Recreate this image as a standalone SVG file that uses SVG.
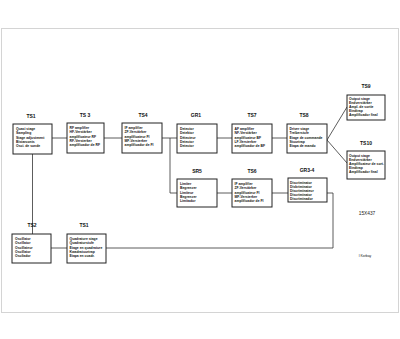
<svg xmlns="http://www.w3.org/2000/svg" width="400" height="339" viewBox="0 0 400 339">
<style>
.bx{fill:#fff;stroke:#222;stroke-width:1}
.lb{font-family:"Liberation Sans",Arial,sans-serif;font-size:5px;font-weight:bold;fill:#111;text-anchor:middle}
.t{font-family:"Liberation Sans",Arial,sans-serif;font-size:3.4px;font-weight:bold;fill:#111}
.c{fill:none;stroke:#333;stroke-width:0.8}
.sm{font-family:"Liberation Sans",Arial,sans-serif;font-size:4.8px;fill:#222}
</style>
<rect x="0" y="0" width="400" height="339" fill="#fff"/>
<rect x="1.5" y="28.5" width="397" height="284" fill="none" stroke="#d4d4d4" stroke-width="1"/>
<g id="connectors">
<line class="c" x1="52" y1="138" x2="67" y2="138"/>
<line class="c" x1="104" y1="138" x2="122" y2="138"/>
<line class="c" x1="162" y1="138" x2="177" y2="138"/>
<polyline class="c" points="170,138 170,193 177,193"/>
<line class="c" x1="217" y1="138" x2="232" y2="138"/>
<line class="c" x1="272" y1="138" x2="287" y2="138"/>
<line class="c" x1="327" y1="140" x2="347" y2="107"/>
<line class="c" x1="327" y1="140" x2="347" y2="163"/>
<line class="c" x1="217" y1="193" x2="232" y2="193"/>
<line class="c" x1="272" y1="193" x2="288" y2="193"/>
<polyline class="c" points="327,193 333,193 333,248 106,248"/>
<line class="c" x1="32.5" y1="154" x2="32.5" y2="234"/>
<line class="c" x1="51" y1="248" x2="67" y2="248"/>
</g>
<g id="TS1">
<text class="lb" x="31" y="118">TS1</text>
<rect class="bx" x="13" y="124" width="39" height="30"/>
<text class="t" x="16" y="130">Quasi stage</text>
<text class="t" x="16" y="134.3">Sampling</text>
<text class="t" x="16" y="138.6">Stage adjustment</text>
<text class="t" x="16" y="142.9">Bistarconts</text>
<text class="t" x="16" y="147.2">Osci. de sonde</text>
</g>
<g id="TS3">
<text class="lb" x="85" y="117">TS 3</text>
<rect class="bx" x="67" y="123" width="37" height="30"/>
<text class="t" x="69.5" y="129">RF amplifier</text>
<text class="t" x="69.5" y="133.3">HF-Verstärker</text>
<text class="t" x="69.5" y="137.6">amplificateur RF</text>
<text class="t" x="69.5" y="141.9">RF-Versterker</text>
<text class="t" x="69.5" y="146.2">amplificador de RF</text>
</g>
<g id="TS4">
<text class="lb" x="143" y="117">TS4</text>
<rect class="bx" x="122" y="123" width="40" height="30"/>
<text class="t" x="124.5" y="129">IF amplifier</text>
<text class="t" x="124.5" y="133.3">ZF-Verstärker</text>
<text class="t" x="124.5" y="137.6">amplificateur FI</text>
<text class="t" x="124.5" y="141.9">MF-Versterker</text>
<text class="t" x="124.5" y="146.2">amplificador de FI</text>
</g>
<g id="GR1">
<text class="lb" x="196" y="117">GR1</text>
<rect class="bx" x="177" y="124" width="40" height="29"/>
<text class="t" x="180" y="130">Detector</text>
<text class="t" x="180" y="134.3">Detektor</text>
<text class="t" x="180" y="138.6">Détecteur</text>
<text class="t" x="180" y="142.9">Detector</text>
<text class="t" x="180" y="147.2">Detector</text>
</g>
<g id="TS7">
<text class="lb" x="252" y="117">TS7</text>
<rect class="bx" x="232" y="124" width="40" height="29"/>
<text class="t" x="234.5" y="130">AF amplifier</text>
<text class="t" x="234.5" y="134.3">NF-Verstärker</text>
<text class="t" x="234.5" y="138.6">amplificateur BF</text>
<text class="t" x="234.5" y="142.9">LF-Versterker</text>
<text class="t" x="234.5" y="147.2">amplificador de BF</text>
</g>
<g id="TS8">
<text class="lb" x="304" y="117">TS8</text>
<rect class="bx" x="287" y="124" width="40" height="29"/>
<text class="t" x="289.5" y="130">Driver stage</text>
<text class="t" x="289.5" y="134.3">Treiberstufe</text>
<text class="t" x="289.5" y="138.6">Etage de commande</text>
<text class="t" x="289.5" y="142.9">Stuurtrap</text>
<text class="t" x="289.5" y="147.2">Etapa de mando</text>
</g>
<g id="TS9">
<text class="lb" x="366" y="88">TS9</text>
<rect class="bx" x="347" y="95" width="38" height="25"/>
<text class="t" x="349" y="100">Output stage</text>
<text class="t" x="349" y="104">Endverstärker</text>
<text class="t" x="349" y="108">Ampl. de sortie</text>
<text class="t" x="349" y="112">Eindtrap</text>
<text class="t" x="349" y="116">Amplificador final</text>
</g>
<g id="TS10">
<text class="lb" x="366" y="145">TS10</text>
<rect class="bx" x="347" y="151" width="38" height="28"/>
<text class="t" x="349" y="157">Output stage</text>
<text class="t" x="349" y="161">Endverstärker</text>
<text class="t" x="349" y="165">Amplificateur de sort.</text>
<text class="t" x="349" y="169">Eindtrap</text>
<text class="t" x="349" y="173">Amplificador final</text>
</g>
<g id="SR5">
<text class="lb" x="197" y="173">SR5</text>
<rect class="bx" x="177" y="179" width="40" height="28"/>
<text class="t" x="180" y="185">Limiter</text>
<text class="t" x="180" y="189.3">Begrenzer</text>
<text class="t" x="180" y="193.6">Limiteur</text>
<text class="t" x="180" y="197.9">Begrenzer</text>
<text class="t" x="180" y="202.2">Limitador</text>
</g>
<g id="TS6">
<text class="lb" x="252" y="173">TS6</text>
<rect class="bx" x="232" y="179" width="40" height="28"/>
<text class="t" x="234.5" y="185">IF amplifier</text>
<text class="t" x="234.5" y="189.3">ZF-Verstärker</text>
<text class="t" x="234.5" y="193.6">amplificateur FI</text>
<text class="t" x="234.5" y="197.9">MF-Versterker</text>
<text class="t" x="234.5" y="202.2">amplificador de FI</text>
</g>
<g id="GR3-4">
<text class="lb" x="307" y="172">GR3-4</text>
<rect class="bx" x="288" y="178" width="39" height="24"/>
<text class="t" x="290" y="183.5">Discriminator</text>
<text class="t" x="290" y="187.5">Diskriminator</text>
<text class="t" x="290" y="191.5">Discriminateur</text>
<text class="t" x="290" y="195.5">Discriminator</text>
<text class="t" x="290" y="199.5">Discriminador</text>
</g>
<g id="TS2">
<text class="lb" x="32" y="227">TS2</text>
<rect class="bx" x="12" y="234" width="39" height="29"/>
<text class="t" x="15" y="240">Oscillator</text>
<text class="t" x="15" y="244.3">Oszillator</text>
<text class="t" x="15" y="248.6">Oscillateur</text>
<text class="t" x="15" y="252.9">Oscillator</text>
<text class="t" x="15" y="257.2">Oscilador</text>
</g>
<g id="TS1b">
<text class="lb" x="84" y="227">TS1</text>
<rect class="bx" x="67" y="234" width="39" height="29"/>
<text class="t" x="69.5" y="240">Quadrature stage</text>
<text class="t" x="69.5" y="244.3">Quadraturstufe</text>
<text class="t" x="69.5" y="248.6">Etage en quadrature</text>
<text class="t" x="69.5" y="252.9">Kwadratuurtrap</text>
<text class="t" x="69.5" y="257.2">Etapa en cuadr.</text>
</g>
<text class="sm" x="367" y="215" text-anchor="middle">15X437</text>
<text class="t" x="365" y="257" text-anchor="middle" style="font-weight:normal">I Korbay</text>
</svg>
